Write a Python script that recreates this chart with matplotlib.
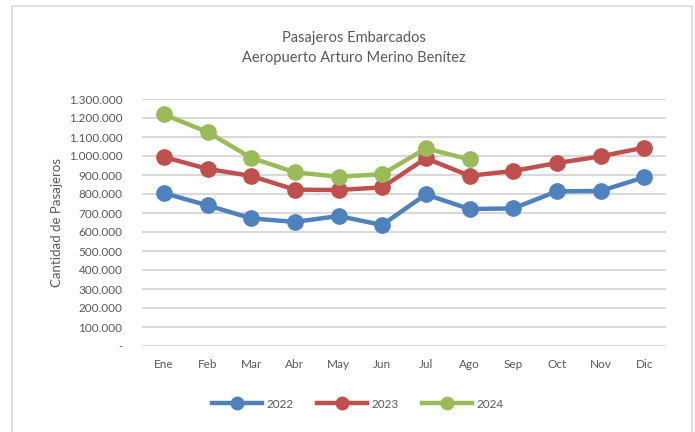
import matplotlib
matplotlib.use("Agg")
import matplotlib.pyplot as plt
from matplotlib.ticker import FuncFormatter, MultipleLocator
from matplotlib.patches import Rectangle
from matplotlib.lines import Line2D

months = ["Ene", "Feb", "Mar", "Abr", "May", "Jun", "Jul", "Ago", "Sep", "Oct", "Nov", "Dic"]
y2022 = [805000, 740000, 672000, 653000, 684000, 637000, 798000, 721000, 724000, 814000, 816000, 888000]
y2023 = [995000, 932000, 895000, 823000, 821000, 835000, 988000, 896000, 921000, 963000, 998000, 1044000]
y2024 = [1219000, 1126000, 991000, 914000, 891000, 904000, 1040000, 982000]
series_names = ["2022", "2023", "2024"]
colors = ["#4F81BD", "#C0504D", "#9BBB59"]

plt.rcParams['font.family'] = ['Lato', 'DejaVu Sans']
txt = "#595959"

fig = plt.figure(figsize=(6.95, 4.32), dpi=100)
ax = fig.add_axes([142/695, 1-346/432, 524/695, 247/432])

for vals, c, n in zip([y2022, y2023, y2024], colors, series_names):
    ax.plot(range(len(vals)), vals, color=c, lw=3.2, marker='o', ms=11, label=n,
            solid_capstyle='round', zorder=3)

ax.set_xlim(-0.5, 11.5)
ax.set_ylim(0, 1300000)
ax.yaxis.set_major_locator(MultipleLocator(100000))

def fmt(v, pos):
    if abs(v) < 1:
        return "-"
    return f"{int(round(v)):,}".replace(",", ".")

ax.yaxis.set_major_formatter(FuncFormatter(fmt))
ax.set_xticks(range(12))
ax.set_xticklabels(months)
ax.grid(axis='y', color='#D9D9D9', lw=1.5, zorder=0)
ax.set_axisbelow(True)
for s in ax.spines.values():
    s.set_visible(False)
ax.tick_params(axis='both', length=0, colors=txt, labelsize=8.5)
ax.tick_params(axis='y', pad=14)
ax.tick_params(axis='x', pad=9)
ax.set_ylabel("Cantidad de Pasajeros", color=txt, fontsize=9.5)
ax.yaxis.set_label_coords(-0.15, 0.5)

fig.text(354/695, 1-38/432, "Pasajeros Embarcados", ha='center', va='center', color=txt, fontsize=10.5)
fig.text(354/695, 1-58/432, "Aeropuerto Arturo Merino Benítez", ha='center', va='center', color=txt, fontsize=10.5)

handles = [Line2D([0], [0], color=c, lw=3.2, marker='o', ms=9) for c in colors]
fig.legend(handles, series_names, loc='center', bbox_to_anchor=(358/695, 1-404/432), ncol=3,
           frameon=False, fontsize=8.5, labelcolor=txt, handlelength=4.2, columnspacing=2.0, handletextpad=0.4)

fig.patches.append(Rectangle((12/695, -0.05), 680/695, 1.05 - 6/432, transform=fig.transFigure,
                             fill=False, edgecolor='#D9D9D9', lw=1.2))

fig.savefig("out.png", dpi=100)
